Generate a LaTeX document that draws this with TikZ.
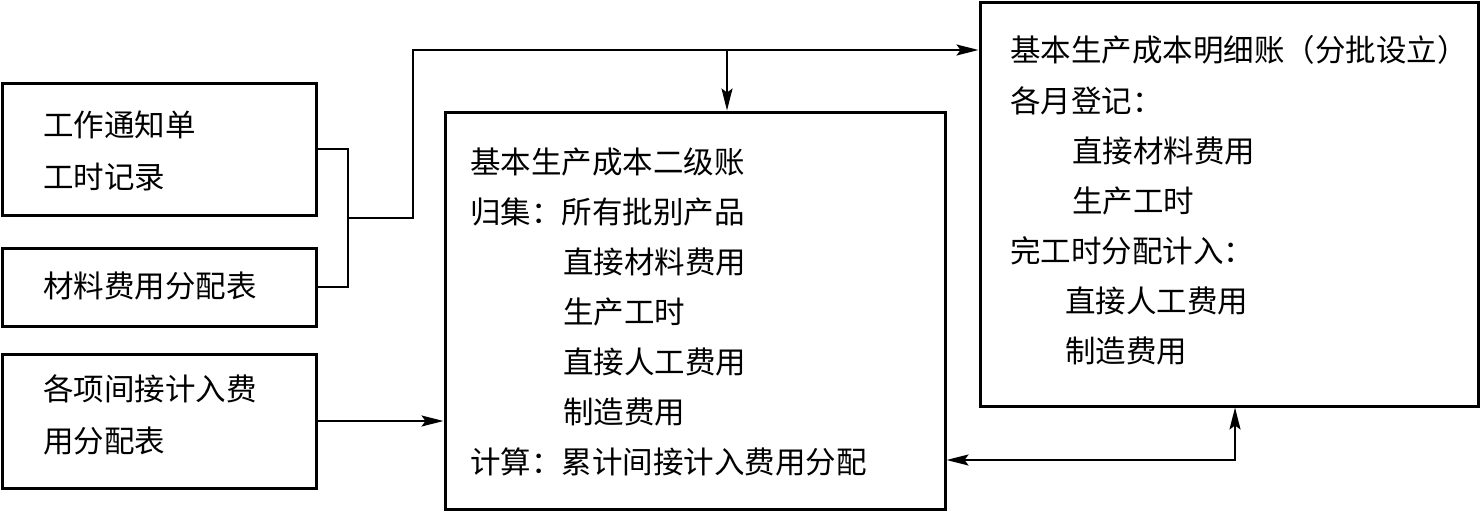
\documentclass[tikz,border=0pt]{standalone}
\usepackage{fontspec}
\setmainfont{Noto Sans CJK SC}
\usetikzlibrary{arrows.meta}
\begin{document}
\begin{tikzpicture}[x=1pt,y=-1pt,
  box/.style={draw,line width=3pt,rectangle,inner sep=0pt},
  txt/.style={anchor=west,inner sep=0pt,font=\fontsize{30.5}{31}\selectfont},
  conn/.style={line width=2pt},
  tip/.style={},
  arr/.style={conn,-{Stealth[length=22pt,width=11pt,inset=4pt]}},
  darr/.style={conn,{Stealth[length=22pt,width=11pt,inset=4pt]}-{Stealth[length=22pt,width=11pt,inset=4pt]}}]
\useasboundingbox (0,0) rectangle (1481,514);
% boxes
\node[box,minimum width=314,minimum height=132] (b1) at (159,149) {};
\node[box,minimum width=314,minimum height=78] (b2) at (159,287) {};
\node[box,minimum width=314,minimum height=134] (b3) at (159,421) {};
\node[box,minimum width=500,minimum height=397] (cb) at (695,310.5) {};
\node[box,minimum width=498,minimum height=404] (rb) at (1229,204) {};
% left texts
\node[txt] (l1) at (43,125) {工作通知单};
\node[txt] (l2) at (43,177) {工时记录};
\node[txt] (l3) at (43,286) {材料费用分配表};
\node[txt] (l4) at (43,389) {各项间接计入费};
\node[txt] (l5) at (43,441) {用分配表};
% central texts
\node[txt] (c1) at (470,162) {基本生产成本二级账};
\node[txt] (c2) at (470,212) {归集：所有批别产品};
\node[txt] (c3) at (563,262) {直接材料费用};
\node[txt] (c4) at (563,312) {生产工时};
\node[txt] (c5) at (563,362) {直接人工费用};
\node[txt] (c6) at (563,412) {制造费用};
\node[txt] (c7) at (470,462) {计算：累计间接计入费用分配};
% right texts
\node[txt] (r1) at (1010,50) {基本生产成本明细账（分批设立）};
\node[txt] (r2) at (1010,101) {各月登记：};
\node[txt] (r3) at (1072,151) {直接材料费用};
\node[txt] (r4) at (1072,201) {生产工时};
\node[txt] (r5) at (1010,251) {完工时分配计入：};
\node[txt] (r6) at (1065,301) {直接人工费用};
\node[txt] (r7) at (1065,351) {制造费用};
% connectors
\coordinate (j) at (348,218);
\coordinate (k) at (413,218);
\coordinate (top) at (413,50);
\coordinate (tp) at (727,50);
\coordinate (q) at (1235,460);
\draw[conn] (b1.east) -- (b1.east -| j) -- (b2.east -| j) -- (b2.east);
\draw[arr] (j) -- (k) -- (top) -- (top -| rb.west);
\draw[arr] (tp) -- (tp |- cb.north);
\draw[arr] (b3.east) -- (b3.east -| cb.west);
\draw[darr] (q -| cb.east) -- (q) -- (q |- rb.south);
\end{tikzpicture}
\end{document}
